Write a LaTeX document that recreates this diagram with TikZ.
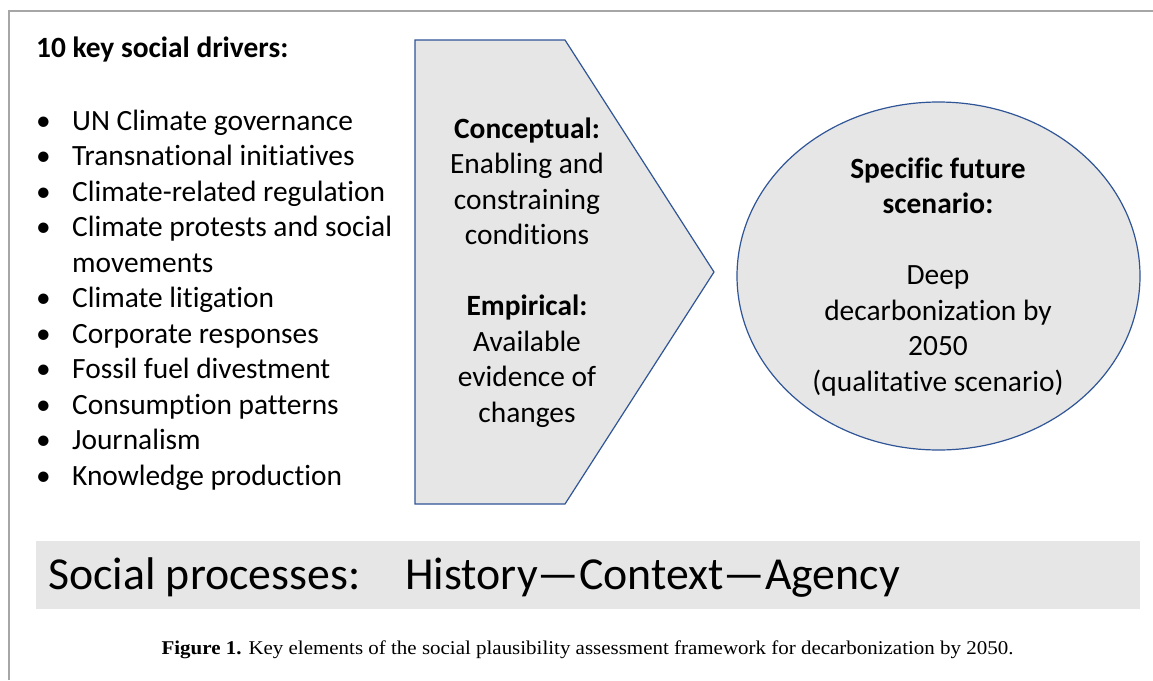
\documentclass[tikz,border=0pt]{standalone}
\usepackage{fontspec}
\setmainfont[Ligatures=NoCommon]{Carlito}
\newfontfamily\capfont[FakeStretch=1.075]{Liberation Serif}
\usetikzlibrary{shapes.geometric}
\definecolor{framegray}{RGB}{166,166,166}
\definecolor{boxgray}{RGB}{230,230,230}
\definecolor{edgeblue}{RGB}{47,85,151}
\tikzset{
  txt/.style={inner sep=0pt, font=\fontsize{29.4}{35.5}\selectfont},
  shapefill/.style={fill=boxgray, draw=edgeblue, line width=1.2pt},
}
\begin{document}
\begin{tikzpicture}[x=1pt,y=-1pt]
\useasboundingbox (0,0) rectangle (1153,680);
% frame
\draw[framegray, line width=1.5pt] (9,680) -- (9,11) -- (1153,11);
% heading and list
\node[txt, anchor=base west, font=\fontsize{29.4}{35.5}\selectfont\bfseries] (head) at (36,57) {10 key social drivers:};
\node[txt, anchor=base west, align=left] (list) at (36,485) {%
\makebox[36pt][l]{•}UN Climate governance\\
\makebox[36pt][l]{•}Transnational initiatives\\
\makebox[36pt][l]{•}Climate-related regulation\\
\makebox[36pt][l]{•}Climate protests and social\\
\hspace*{36pt}movements\\
\makebox[36pt][l]{•}Climate litigation\\
\makebox[36pt][l]{•}Corporate responses\\
\makebox[36pt][l]{•}Fossil fuel divestment\\
\makebox[36pt][l]{•}Consumption patterns\\
\makebox[36pt][l]{•}Journalism\\
\makebox[36pt][l]{•}Knowledge production};
% pentagon
\draw[shapefill] (415,40) -- (565,40) -- (714,272) -- (565,504) -- (415,504) -- cycle;
\node[txt, anchor=base, align=center] (concept) at (527,422) {%
\textbf{Conceptual:}\\Enabling and\\constraining\\conditions\\[35.5pt]
\textbf{Empirical:}\\Available\\evidence of\\changes};
% ellipse
\node[shapefill, ellipse, minimum width=403pt, minimum height=348pt, inner sep=0pt] (scen) at (938.5,276) {};
\node[txt, anchor=base, align=center] (scentext) at (938,391) {%
\textbf{Specific future}\\\textbf{scenario:}\\[35.5pt]
Deep\\decarbonization by\\2050\\(qualitative scenario)};
% bar
\fill[boxgray] (36,541) rectangle (1140,609);
\node[inner sep=0pt, anchor=base west, font=\fontsize{45.8}{55}\selectfont] (proc) at (48,589) {Social processes:\hspace{45pt}History—Context—Agency};
% caption
\node[inner sep=0pt, anchor=base, font=\capfont\fontsize{19.5}{23}\selectfont] (cap) at (587.5,654) {\textbf{Figure 1.} Key elements of the social plausibility assessment framework for decarbonization by 2050.};
\end{tikzpicture}
\end{document}
